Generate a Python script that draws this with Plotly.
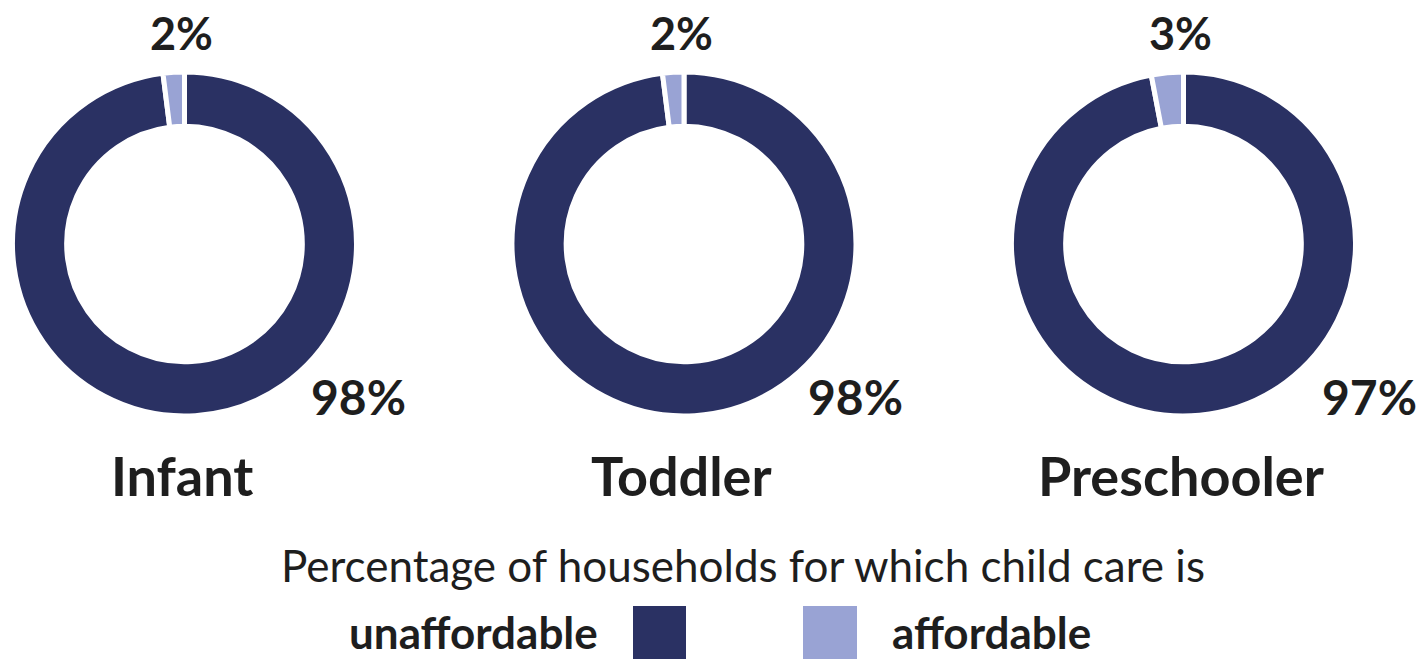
import plotly.graph_objects as go

categories = ["Infant", "Toddler", "Preschooler"]
unaffordable = [98, 98, 97]
affordable = [2, 2, 3]
legend_labels = ["unaffordable", "affordable"]
title_text = "Percentage of households for which child care is"

W, H = 1422, 659
DARK = "#2A3163"
LIGHT = "#99A3D4"
TXT = "#1E1E1E"
FONT = "Lato"

centers_x = [184.5, 684, 1183.5]
big_label_dx = [174, 171, 186]
cy = 244
R = 172

def ann(x, y, text, size, xanchor="center"):
    fig.add_annotation(x=x / W, y=1 - y / H, xref="paper", yref="paper",
                       xanchor=xanchor, yanchor="middle",
                       text=text, showarrow=False,
                       font=dict(family=FONT, size=size, color=TXT))

fig = go.Figure()
for i, cat in enumerate(categories):
    cx = centers_x[i]
    fig.add_trace(go.Pie(
        labels=legend_labels,
        values=[unaffordable[i], affordable[i]],
        hole=0.685,
        sort=False,
        direction="clockwise",
        rotation=0,
        marker=dict(colors=[DARK, LIGHT], line=dict(color="white", width=5)),
        textinfo="none",
        hoverinfo="label+percent",
        showlegend=False,
        domain=dict(x=[(cx - R) / W, (cx + R) / W], y=[(H - cy - R) / H, (H - cy + R) / H]),
        name=cat,
    ))
    ann(cx - 3, 33, f"<b>{affordable[i]}%</b>", 45)
    ann(cx + big_label_dx[i], 396, f"<b>{unaffordable[i]}%</b>", 48)
    ann(cx - 3, 475, f"<b>{cat}</b>", 54)

ann(743, 565, title_text, 44)

# legend
ann(600, 632, f"<b>{legend_labels[0]}</b>", 44, "right")
ann(890, 632, f"<b>{legend_labels[1]}</b>", 44, "left")
fig.add_shape(type="rect", xref="paper", yref="paper",
              x0=633 / W, x1=686 / W, y0=1 - 659 / H, y1=1 - 606 / H,
              fillcolor=DARK, line=dict(width=0))
fig.add_shape(type="rect", xref="paper", yref="paper",
              x0=803 / W, x1=857 / W, y0=1 - 659 / H, y1=1 - 606 / H,
              fillcolor=LIGHT, line=dict(width=0))

fig.update_layout(width=W, height=H, margin=dict(l=0, r=0, t=0, b=0),
                  paper_bgcolor="white", plot_bgcolor="white")
fig.write_html("out.html")
